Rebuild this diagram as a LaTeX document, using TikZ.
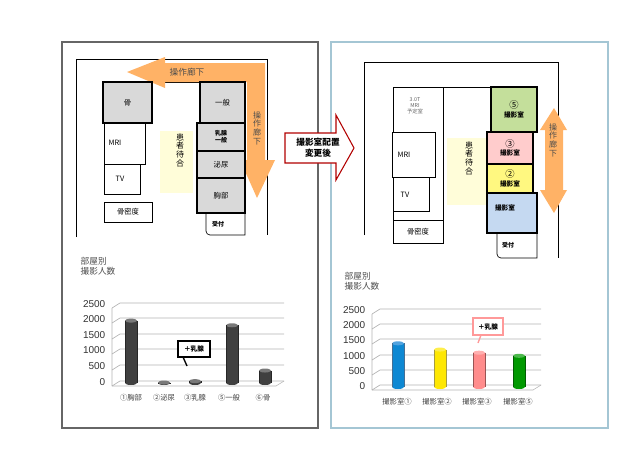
\documentclass[tikz,border=0pt]{standalone}
\usepackage{fontspec}
\setmainfont{Noto Sans CJK JP}
\newfontfamily\numf{Liberation Sans}
\definecolor{roomblue}{HTML}{C5D9F1}
\definecolor{roomgreen}{HTML}{C4DF9B}
\newcommand\barc[4]{% x, base y, value, color
 \colorlet{tmpc}{#4}
 \pgfmathsetmacro\ytop{#2-#3*0.0312}
 \fill[tmpc] (#1-6,#2) rectangle (#1+6,\ytop);
 \fill[tmpc] (#1,#2) ellipse [x radius=6,y radius=2];
 \fill[tmpc!70!white] (#1,\ytop) ellipse [x radius=6,y radius=2];
 \draw[tmpc!60!black,line width=0.3pt] (#1-6,\ytop)--(#1-6,#2) (#1+6,\ytop)--(#1+6,#2);
}
\begin{document}
\begin{tikzpicture}[x=0.75pt,y=-0.75pt,
 room/.style={draw,line width=0.5pt,fill=white},
 groom/.style={draw,line width=1.1pt,fill=gray!30},
 lbl/.style={font=\fontsize{5.5}{6}\selectfont},
 ax/.style={font=\numf\fontsize{7.5}{8}\selectfont,anchor=east,text=black!80},
 xl/.style={font=\fontsize{5.5}{6}\selectfont,text=black!75},
 rn/.style={font=\fontsize{5}{6.5}\selectfont,align=center},
 vt/.style={font=\fontsize{6}{6.5}\selectfont,align=center,text width=7pt}]
\useasboundingbox (0,0) rectangle (620,465);
% panels
\draw[gray!80!black,line width=0.8pt] (62,42) rectangle (318,428);
\draw[cyan!40!gray!60,line width=1pt] (331,42) rectangle (608,428);
% ===== left plan =====
\draw[line width=0.5pt] (76,237)--(76,59)--(267,59)--(267,235);
\draw[line width=0.5pt] (152,82)--(245,82);
\fill[yellow!15] (160,131) rectangle (193,193);
\node[vt] (wl) at (180,150) {患\\者\\待\\合};
\fill[orange!60] (265,63)--(165,63)--(165,57)--(127,72)--(165,88)--(165,82)--(247,82)--(247,160)--(240,160)--(257,198)--(275,160)--(265,160)--cycle;
\node[font=\fontsize{6.5}{7}\selectfont,text=black!70] (cl1) at (187,72) {操作廊下};
\node[vt,text=black!70] (cl2) at (257,128) {操\\作\\廊\\下};
\draw[room] (104,123) rectangle (145,164);
\node[lbl] (mri) at (115,143) {MRI};
\draw[room] (104,164) rectangle (140,194);
\node[lbl] (tv) at (120,179) {TV};
\draw[room] (104,202) rectangle (152,222);
\node[lbl] (bd) at (128,212) {骨密度};
\draw[groom] (103,82) rectangle (152,123);
\node[lbl] (b1) at (127.5,102.5) {骨};
\draw[groom] (200,82) rectangle (245,123);
\node[lbl] (b2) at (222.5,102.5) {一般};
\draw[groom] (197,123) rectangle (245,151);
\node[font=\fontsize{4.5}{5}\selectfont\bfseries,align=center] (b3) at (221,137) {乳腺\\一般};
\draw[groom] (197,151) rectangle (245,178);
\node[lbl] (b4) at (221,164.5) {泌尿};
\draw[groom] (197,178) rectangle (245,213);
\node[lbl] (b5) at (221,195.5) {胸部};
\draw[line width=0.5pt] (206,213)--(206,231) to[out=-90,in=180] (210,235)--(245,235)--(245,213);
\node[font=\fontsize{4.5}{5}\selectfont\bfseries] (uk1) at (218,224) {受付};
% ===== middle arrow =====
\draw[red!70!black,fill=white,line width=0.8pt] (285,133)--(336,133)--(336,115)--(354,148)--(336,180)--(336,163)--(285,163)--cycle;
\node[font=\fontsize{6.5}{8}\selectfont\bfseries,align=center] (midt) at (318,148) {撮影室配置\\変更後};
% ===== right plan =====
\draw[line width=0.5pt] (364,235)--(364,62)--(558,62)--(558,258);
\draw[line width=0.5pt] (443,87)--(491,87);
\fill[yellow!15] (447,138) rectangle (486,205);
\node[vt] (wr) at (469,158) {患\\者\\待\\合};
\draw[room] (393,87) rectangle (443,220);
\node[font=\fontsize{4}{4.5}\selectfont,align=center,text=black!60] (t3) at (415,106) {3.0T\\MRI\\予定室};
\draw[room] (392,132) rectangle (435,177);
\node[lbl] (mri2) at (404,155) {MRI};
\draw[room] (393,177) rectangle (429,211);
\node[lbl] (tv2) at (405,195) {TV};
\draw[room] (393,220) rectangle (443,243);
\node[lbl] (bd2) at (418,231.5) {骨密度};
\fill[orange!60] (540,130)--(554,108)--(567,130)--(563,130)--(563,190)--(567,190)--(554,213)--(540,190)--(545,190)--(545,130)--cycle;
\node[vt,text=black!70] (cl3) at (553,140) {操\\作\\廊\\下};
\draw[line width=1.1pt,fill=roomgreen] (491,87) rectangle (537,132);
\node[rn] (r5) at (514,109.5) {{\fontsize{7}{7}\selectfont ⑤}\\\textbf{撮影室}};
\draw[line width=1.1pt,fill=red!20] (487,132) rectangle (533,164);
\node[rn] (r3) at (510,148) {{\fontsize{7}{7}\selectfont ③}\\\textbf{撮影室}};
\draw[line width=1.1pt,fill=yellow!50] (487,164) rectangle (533,193);
\node[rn] (r2) at (510,178.5) {{\fontsize{7}{7}\selectfont ②}\\\textbf{撮影室}};
\draw[line width=1.1pt,fill=roomblue] (487,193) rectangle (537,233);
\node[font=\fontsize{5}{6}\selectfont\bfseries] (r1) at (505,208) {撮影室};
\draw[line width=0.5pt] (497,233)--(497,254) to[out=-90,in=180] (501,258)--(537,258)--(537,233);
\node[font=\fontsize{4.5}{5}\selectfont\bfseries] (uk2) at (508,245) {受付};
% ===== left chart =====
\node[font=\fontsize{6.5}{7}\selectfont,text=black!70,align=left,anchor=north west] (ttl) at (76,253) {部屋別\\撮影人数};
\foreach \v/\y in {0/381,500/365,1000/349,1500/334,2000/318,2500/303}{
 \draw[gray!60,line width=0.5pt] (112,\y+5)--(120,\y)--(284,\y);
 \node[ax] at (110,\y+1) {\v};}
\draw[gray!60] (112,386)--(112,308) (112,386)--(276,386)--(284,381);
\barc{131}{383}{2000}{black!75}
\barc{164}{383}{15}{black!75}
\barc{195}{383}{60}{black!75}
\barc{232}{383}{1850}{black!75}
\barc{265}{383}{400}{black!75}
\foreach \x/\t in {131/①胸部,164/②泌尿,195/③乳腺,229/⑤一般,263/⑥骨}
 \node[xl] at (\x,398) {\t};
\draw[line width=1pt] (187,366)--(183,357);
\draw[line width=1pt,fill=white] (178,341) rectangle (210,357);
\node[font=\fontsize{5}{6}\selectfont\bfseries] (co1) at (194,349) {＋乳腺};
% ===== right chart =====
\node[font=\fontsize{6.5}{7}\selectfont,text=black!70,align=left,anchor=north west] (ttr) at (340,268) {部屋別\\撮影人数};
\foreach \v/\y in {0/385,500/370,1000/355,1500/339,2000/324,2500/309}{
 \draw[gray!60,line width=0.5pt] (372,\y+5)--(380,\y)--(541,\y);
 \node[ax] at (370,\y+1) {\v};}
\draw[gray!60] (372,390)--(372,314) (372,390)--(533,390)--(541,385);
\barc{398}{387}{1400}{cyan!70!blue}
\barc{440}{387}{1200}{yellow!90!orange}
\barc{479}{387}{1100}{red!45}
\barc{519}{387}{1000}{green!60!black}
\foreach \x/\t in {397/撮影室①,437/撮影室②,477/撮影室③,518/撮影室⑤}
 \node[xl] at (\x,402) {\t};
\draw[red!40,line width=1pt] (478,343)--(481,335);
\draw[red!40,line width=1pt,fill=white] (473,318) rectangle (503,335);
\node[font=\fontsize{5}{6}\selectfont\bfseries] (co2) at (488,326.5) {＋乳腺};
\end{tikzpicture}
\end{document}
